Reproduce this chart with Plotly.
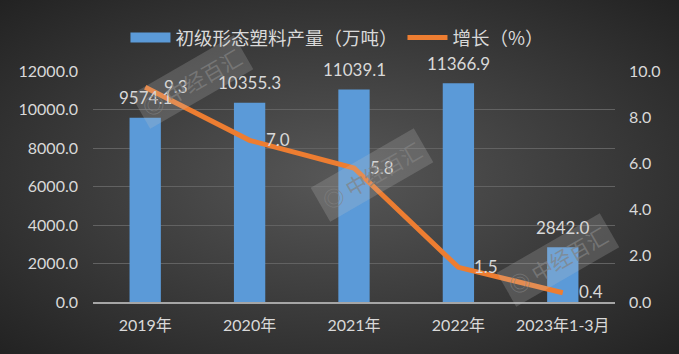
import plotly.graph_objects as go
import base64

categories = ["2019年", "2020年", "2021年", "2022年", "2023年1-3月"]
output = [9574.1, 10355.3, 11039.1, 11366.9, 2842.0]
growth = [9.3, 7.0, 5.8, 1.5, 0.4]
left_ticks = [0, 2000, 4000, 6000, 8000, 10000, 12000]
right_ticks = [0, 2, 4, 6, 8, 10]

svg = ('<svg xmlns="http://www.w3.org/2000/svg" width="679" height="354">'
       '<defs><radialGradient id="g" cx="50%" cy="50%" r="75%">'
       '<stop offset="0%" stop-color="#575757"/><stop offset="100%" stop-color="#1f1f1f"/>'
       '</radialGradient></defs><rect width="679" height="354" fill="url(#g)"/></svg>')
bg = "data:image/svg+xml;base64," + base64.b64encode(svg.encode()).decode()

font = "Lato, Noto Sans CJK SC, sans-serif"
txtc = "#d9d9d9"
L, R, T, B = 93, 64, 71, 52
PW, PH = 679 - L - R, 354 - T - B

fig = go.Figure()
fig.add_trace(go.Bar(
    x=categories, y=output, name="初级形态塑料产量（万吨）",
    marker=dict(color="#5b9ad8", line=dict(width=0)),
    width=0.3, showlegend=False,
))
# legend proxy for bars (wide rectangular swatch)
fig.add_trace(go.Scatter(
    x=[None], y=[None], mode="lines", name="初级形态塑料产量（万吨）",
    line=dict(color="#5b9ad8", width=13),
))
fig.add_trace(go.Scatter(
    x=categories, y=growth, name="增长（%）", yaxis="y2",
    mode="lines",
    line=dict(color="#ed7d31", width=5),
    cliponaxis=False,
))

annotations = []
for c, v in zip(categories, output):
    annotations.append(dict(x=c, y=v, xref="x", yref="y", text=f"{v:.1f}",
                            showarrow=False, yanchor="middle", yshift=20,
                            font=dict(color=txtc, size=17, family=font)))
for i, (c, v) in enumerate(zip(categories, growth)):
    annotations.append(dict(x=c, y=v, xref="x", yref="y2", text=f"{v:.1f}",
                            showarrow=False, xanchor="left", yanchor="middle",
                            xshift=14 if i else 17, yshift=1,
                            font=dict(color=txtc, size=17, family=font)))
# watermarks
for wx, wy in [(192, 82), (372, 175), (558, 260)]:
    annotations.append(dict(x=(wx - L) / PW, y=1 - (wy - T) / PH, xref="paper", yref="paper",
                            xanchor="center", yanchor="middle",
                            text="◎ 中经百汇", showarrow=False, textangle=-30,
                            font=dict(size=21, color="rgba(130,130,130,0.7)",
                                      family="Noto Sans CJK SC"),
                            bgcolor="rgba(195,195,195,0.22)", borderpad=4))

fig.update_layout(
    width=679, height=354,
    margin=dict(l=L, r=R, t=T, b=B, autoexpand=False),
    paper_bgcolor="#3a3a3a", plot_bgcolor="rgba(0,0,0,0)",
    images=[dict(source=bg, xref="paper", yref="paper", x=-L / PW, y=1 + T / PH,
                 sizex=679 / PW, sizey=354 / PH, xanchor="left", yanchor="top",
                 sizing="stretch", layer="below")],
    font=dict(family=font, color=txtc, size=16),
    annotations=annotations,
    showlegend=True,
    legend=dict(orientation="h", xref="container", yref="container",
                x=0.497, xanchor="center", y=1 - 38 / 354, yanchor="middle",
                font=dict(size=18.5, color=txtc, family="Noto Sans CJK SC, sans-serif"),
                bgcolor="rgba(0,0,0,0)", itemwidth=40),
    xaxis=dict(showgrid=False, showline=True, linecolor="#a6a6a6", linewidth=1.5,
               ticks="", tickfont=dict(size=16, color=txtc), automargin=False,
               ticklabelstandoff=8),
    yaxis=dict(range=[0, 12000], tickvals=left_ticks,
               ticktext=[f"{v:.1f}" for v in left_ticks],
               gridcolor="#626262", gridwidth=1, zeroline=False, automargin=False,
               tickfont=dict(size=16, color=txtc), ticklabelstandoff=14),
    yaxis2=dict(range=[0, 10], tickvals=right_ticks,
                ticktext=[f"{v:.1f}" for v in right_ticks],
                overlaying="y", side="right", showgrid=False, zeroline=False,
                automargin=False,
                tickfont=dict(size=16, color=txtc), ticklabelstandoff=13),
)

fig.write_html("out.html")
